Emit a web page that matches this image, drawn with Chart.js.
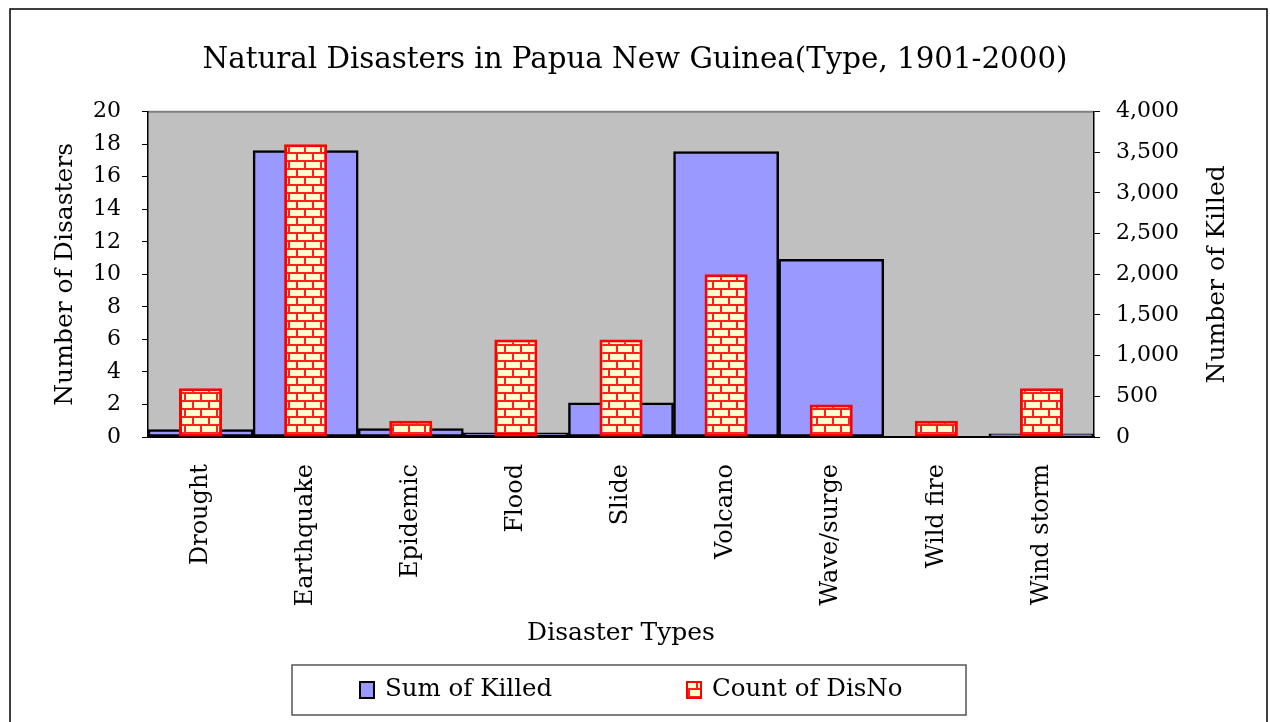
<!DOCTYPE html>
<html>
<head>
<meta charset="utf-8">
<script src="https://cdn.jsdelivr.net/npm/chart.js@4.4.1/dist/chart.umd.min.js"></script>
<style>
    html, body { margin: 0; padding: 0; background: #fff; }
    #wrap { width: 1270px; height: 722px; }
</style>
</head>
<body>
<div id="wrap"><canvas id="chart" width="1270" height="722"></canvas></div>
<script>
// ===== DATA =====
const categories = ['Drought', 'Earthquake', 'Epidemic', 'Flood', 'Slide', 'Volcano', 'Wave/surge', 'Wild fire', 'Wind storm'];
const sumKilled = [90, 3520, 105, 50, 420, 3510, 2185, 0, 40];
const countDisNo = [3, 18, 1, 6, 6, 10, 2, 1, 3];
const countTicks = [0, 2, 4, 6, 8, 10, 12, 14, 16, 18, 20];
const killedTicks = [0, 500, 1000, 1500, 2000, 2500, 3000, 3500, 4000];

const FONT = "'DejaVu Serif', serif";

// Brick pattern for the Count of DisNo bars
function makeBrickPattern() {
    const c = document.createElement('canvas');
    c.width = 16; c.height = 16;
    const g = c.getContext('2d');
    g.fillStyle = '#ffffcc';
    g.fillRect(0, 0, 16, 16);
    g.fillStyle = '#ff2020';
    g.fillRect(0, 0, 16, 2);
    g.fillRect(0, 8, 16, 2);
    g.fillRect(0, 0, 2, 8);
    g.fillRect(8, 8, 2, 8);
    return g.createPattern(c, 'repeat');
}
const brick = makeBrickPattern();

// plot background + outer frame
const backgroundPlugin = {
    id: 'backgroundPlugin',
    beforeDraw(chart) {
        const { ctx, chartArea: a } = chart;
        ctx.save();
        ctx.fillStyle = '#fff';
        ctx.fillRect(0, 0, chart.width, chart.height);
        ctx.strokeStyle = '#000';
        ctx.lineWidth = 1.5;
        ctx.strokeRect(10, 9, 1257, 730);
        ctx.fillStyle = '#c0c0c0';
        ctx.fillRect(a.left, a.top, a.right - a.left, a.bottom - a.top);
        ctx.strokeStyle = '#808080';
        ctx.lineWidth = 2;
        ctx.beginPath();
        ctx.moveTo(a.left, a.top);
        ctx.lineTo(a.right, a.top);
        ctx.stroke();
        ctx.restore();
    }
};

// right axis title (reads bottom to top) + framed legend
const extrasPlugin = {
    id: 'extrasPlugin',
    afterDraw(chart) {
        const { ctx, chartArea: a } = chart;
        ctx.save();
        ctx.fillStyle = '#000';
        ctx.font = '25px ' + FONT;
        ctx.textAlign = 'center';
        ctx.textBaseline = 'middle';
        ctx.translate(1217, (a.top + a.bottom) / 2);
        ctx.rotate(-Math.PI / 2);
        ctx.fillText('Number of Killed', 0, 0);
        ctx.restore();

        // legend box
        ctx.save();
        ctx.strokeStyle = '#555';
        ctx.lineWidth = 1.5;
        ctx.strokeRect(292, 665, 674, 50);
        const ds = chart.data.datasets;
        const items = [{ x: 360, d: ds[0] }, { x: 687, d: ds[1] }];
        items.forEach(it => {
            ctx.fillStyle = it.d.backgroundColor;
            ctx.fillRect(it.x, 682, 14, 16);
            ctx.strokeStyle = it.d.borderColor;
            ctx.lineWidth = 2;
            ctx.strokeRect(it.x, 682, 14, 16);
            ctx.fillStyle = '#000';
            ctx.font = '24.5px ' + FONT;
            ctx.textAlign = 'left';
            ctx.textBaseline = 'middle';
            ctx.fillText(it.d.label, it.x + 25, 690);
        });
        ctx.restore();
    }
};

const ctx = document.getElementById('chart').getContext('2d');
new Chart(ctx, {
    type: 'bar',
    data: {
        labels: categories,
        datasets: [{
            label: 'Sum of Killed',
            data: sumKilled,
            yAxisID: 'yKilled',
            backgroundColor: '#9999ff',
            borderColor: '#000',
            borderWidth: 2.5,
            borderSkipped: false,
            grouped: false,
            barPercentage: 1,
            categoryPercentage: 1,
            order: 2
        }, {
            label: 'Count of DisNo',
            data: countDisNo,
            yAxisID: 'yCount',
            backgroundColor: brick,
            borderColor: '#ff0000',
            borderWidth: 3,
            borderSkipped: false,
            grouped: false,
            barPercentage: 0.41,
            categoryPercentage: 1,
            order: 1
        }]
    },
    options: {
        responsive: false,
        animation: false,
        layout: { padding: { left: 0, right: 0, top: 0, bottom: 70 } },
        plugins: {
            legend: { display: false },
            tooltip: { enabled: false },
            title: {
                display: true,
                text: 'Natural Disasters in Papua New Guinea(Type, 1901-2000)',
                color: '#000',
                font: { family: FONT, size: 29.3, weight: 'normal' },
                padding: { top: 43, bottom: 33.5 }
            }
        },
        scales: {
            x: {
                grid: { display: false, drawTicks: false },
                border: { display: true, color: '#000', width: 2 },
                ticks: {
                    color: '#000',
                    font: { family: FONT, size: 24 },
                    minRotation: 90,
                    maxRotation: 90,
                    autoSkip: false,
                    padding: 27
                },
                title: {
                    display: true,
                    text: 'Disaster Types',
                    color: '#000',
                    font: { family: FONT, size: 25 },
                    padding: { top: 0, bottom: 4 }
                },
                afterFit(scale) { scale.height = 215; }
            },
            yCount: {
                position: 'left',
                min: 0,
                max: 20,
                afterBuildTicks(scale) { scale.ticks = countTicks.map(v => ({ value: v })); },
                grid: { drawOnChartArea: false, drawTicks: true, tickLength: 6, color: '#000' },
                border: { display: true, color: '#000', width: 1.5 },
                ticks: { color: '#000', font: { family: FONT, size: 22 }, padding: 21 },
                title: {
                    display: true,
                    text: 'Number of Disasters',
                    color: '#000',
                    font: { family: FONT, size: 25 },
                    padding: { top: 50, bottom: 0 }
                },
                afterFit(scale) { scale.width = 148; }
            },
            yKilled: {
                position: 'right',
                min: 0,
                max: 4000,
                afterBuildTicks(scale) { scale.ticks = killedTicks.map(v => ({ value: v })); },
                grid: { drawOnChartArea: false, drawTicks: true, tickLength: 6, color: '#000' },
                border: { display: true, color: '#000', width: 1.5 },
                ticks: { color: '#000', font: { family: FONT, size: 22 }, padding: 16 },
                afterFit(scale) { scale.width = 176; }
            }
        }
    },
    plugins: [backgroundPlugin, extrasPlugin]
});
</script>
</body>
</html>
